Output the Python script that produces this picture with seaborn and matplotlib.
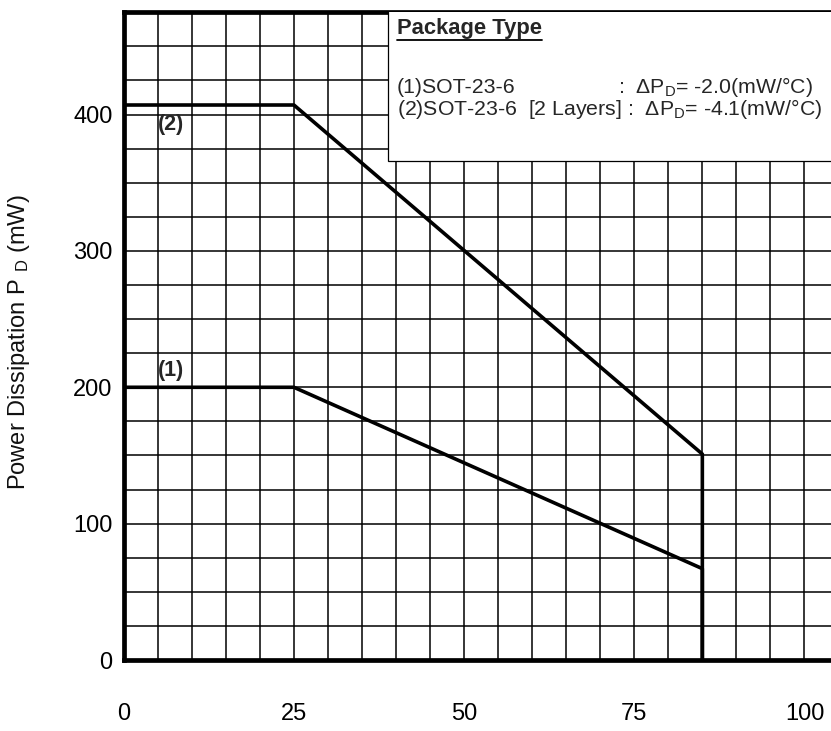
import matplotlib
matplotlib.use("Agg")
import numpy as np
import pandas as pd
import seaborn as sns
from matplotlib import pyplot as plt
from matplotlib.patches import Rectangle

# derating curves
temp_1 = [0, 25, 85, 85]
power_1 = [200, 200, 67, 0]
temp_2 = [0, 25, 85, 85]
power_2 = [407, 407, 151, 0]
curve_names = ["(1)", "(2)"]

x_ticks = [0, 25, 50, 75, 100]
y_ticks = [0, 100, 200, 300, 400]

pkg_title = "Package Type"
pkg_line1_name = "(1)SOT-23-6"
pkg_line1_val = ":  \u0394P$\\mathregular{_D}$= -2.0(mW/\u00b0C)"
pkg_line2 = "(2)SOT-23-6  [2 Layers] :  \u0394P$\\mathregular{_D}$= -4.1(mW/\u00b0C)"

df = pd.concat([
    pd.DataFrame({"temp": temp_1, "power": power_1, "curve": curve_names[0], "order": range(4)}),
    pd.DataFrame({"temp": temp_2, "power": power_2, "curve": curve_names[1], "order": range(4)}),
])

sns.set_theme(style="white")
plt.rcParams["font.family"] = ["Liberation Sans", "DejaVu Sans"]
plt.rcParams["mathtext.fontset"] = "custom"
plt.rcParams["mathtext.rm"] = "Liberation Sans"

fig = plt.figure(figsize=(8.31, 7.31), dpi=100)
ax = fig.add_axes([0.1489, 0.0971, 0.8511, 0.8861])

sns.lineplot(data=df, x="temp", y="power", units="curve", estimator=None, sort=False,
             color="black", lw=2.6, ax=ax, zorder=4)

ax.set_xlim(0, 103.9)
ax.set_ylim(0, 475)

# grid every 5 degC / 25 mW
ax.set_xticks(x_ticks)
ax.set_yticks(y_ticks)
ax.set_xticks(np.arange(0, 105, 5), minor=True)
ax.set_yticks(np.arange(0, 476, 25), minor=True)
ax.grid(which="both", color="black", lw=1.1)
ax.set_axisbelow(True)
ax.tick_params(which="both", length=0)
ax.tick_params(axis="x", pad=31, labelsize=17, labelcolor="black")
ax.tick_params(axis="y", pad=8, labelsize=17, labelcolor="black")
ax.set_xlabel("")
ax.set_ylabel("Power Dissipation P $\\mathregular{_D}$ (mW)", fontsize=17, color="#111111")
ax.yaxis.set_label_coords(-0.13, 0.49)

for side in ["left", "top", "bottom"]:
    ax.spines[side].set_visible(True)
    ax.spines[side].set_color("black")
    ax.spines[side].set_linewidth(3.4)
ax.spines["right"].set_visible(False)

# legend box
ax.add_patch(Rectangle((38.77, 365.8), 70, 120, facecolor="white", edgecolor="black",
                       lw=0.9, zorder=3))
title = ax.text(40.1, 463, pkg_title, fontsize=15.8, fontweight="bold", va="center", zorder=5)
ax.text(40.1, 420, pkg_line1_name, fontsize=15.3, va="center", zorder=5)
ax.text(72.6, 420, pkg_line1_val, fontsize=15.3, va="center", zorder=5)
ax.text(40.1, 404, pkg_line2, fontsize=15.3, va="center", zorder=5)

ax.text(6.95, 393, curve_names[1], fontsize=15.5, fontweight="bold", ha="center", va="center", zorder=5)
ax.text(6.95, 212, curve_names[0], fontsize=15.5, fontweight="bold", ha="center", va="center", zorder=5)

# underline the title
fig.canvas.draw()
bb = title.get_window_extent(fig.canvas.get_renderer())
inv = ax.transData.inverted()
(ux0, uy0), (ux1, _) = inv.transform([(bb.x0, bb.y0 - 1), (bb.x1, bb.y0 - 1)])
ax.plot([ux0, ux1], [uy0, uy0], color="black", lw=1.3, zorder=5)

fig.savefig("out.png", dpi=100)
